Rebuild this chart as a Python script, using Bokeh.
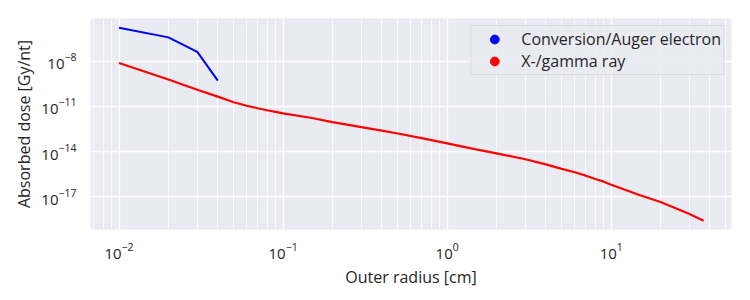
from bokeh.plotting import figure
from bokeh.models import Range1d, FixedTicker, LogTickFormatter, Legend, LegendItem
from bokeh.embed import file_html
from bokeh.resources import INLINE

# Data
electron_r = [0.01, 0.02, 0.03, 0.04]
electron_dose = [1.7e-6, 3.9e-7, 4.2e-8, 5.2e-10]

gamma_r = [0.01, 0.02, 0.03, 0.04, 0.05, 0.06, 0.07, 0.08, 0.09, 0.1, 0.15, 0.2, 0.3, 0.4,
           0.5, 0.7, 1.0, 1.5, 2, 3, 4, 5, 6, 7, 8, 9, 10, 15, 20, 30, 36.6]
gamma_dose = [7.8e-9, 6.2e-10, 1.3e-10, 4.5e-11, 1.9e-11, 1.12e-11, 7.6e-12, 5.6e-12, 4.4e-12,
              3.5e-12, 1.7e-12, 9.1e-13, 4.2e-13, 2.5e-13, 1.6e-13, 7.8e-14, 3.5e-14, 1.4e-14,
              7.6e-15, 3.1e-15, 1.4e-15, 7.1e-16, 4.2e-16, 2.5e-16, 1.5e-16, 1.0e-16, 6.3e-17,
              1.26e-17, 4.4e-18, 7.1e-19, 2.5e-19]

series_names = ["Conversion/Auger electron", "X-/gamma ray"]
series_colors = ["#0000FF", "#FF0000"]

x_major = [0.01, 0.1, 1, 10]
x_minor = [m * 10.0 ** e for e in (-3, -2, -1, 0, 1) for m in range(2, 10)]
y_major = [1e-17, 1e-14, 1e-11, 1e-8]

FONT = "Open Sans"
TXT = "#262626"

p = figure(width=750, height=300, x_axis_type="log", y_axis_type="log",
           output_backend="svg", toolbar_location=None,
           x_range=Range1d(0.0067, 54.1), y_range=Range1d(6.6e-20, 7.03e-6),
           min_border_left=90, min_border_right=19, min_border_top=18, min_border_bottom=71)
p.background_fill_color = "#EAEAF2"
p.border_fill_color = "white"
p.outline_line_color = None

p.xaxis.ticker = FixedTicker(ticks=x_major, minor_ticks=x_minor)
p.yaxis.ticker = FixedTicker(ticks=y_major, minor_ticks=[])
p.xaxis.formatter = LogTickFormatter()
p.yaxis.formatter = LogTickFormatter()

for ax in (p.xaxis, p.yaxis):
    ax.axis_line_color = None
    ax.major_tick_line_color = None
    ax.minor_tick_line_color = None
    ax.major_tick_out = 0
    ax.minor_tick_out = 0
    ax.major_label_text_font = FONT
    ax.major_label_text_font_size = "15px"
    ax.major_label_text_color = TXT
    ax.axis_label_text_font = FONT
    ax.axis_label_text_font_size = "16px"
    ax.axis_label_text_font_style = "normal"
    ax.axis_label_text_color = TXT

p.xaxis.major_label_standoff = 13
p.yaxis.major_label_standoff = 14
p.xaxis.axis_label = "Outer radius [cm]"
p.yaxis.axis_label = "Absorbed dose [Gy/nt]"
p.xaxis.axis_label_standoff = 4
p.yaxis.axis_label_standoff = 3

p.xgrid.grid_line_color = "white"
p.xgrid.grid_line_width = 1.3
p.xgrid.minor_grid_line_color = "white"
p.xgrid.minor_grid_line_width = 0.8
p.ygrid.grid_line_color = "white"
p.ygrid.grid_line_width = 1.3

p.line(electron_r, electron_dose, line_color=series_colors[0], line_width=2)
p.line(gamma_r, gamma_dose, line_color=series_colors[1], line_width=2.2)

# legend handles: dot markers with no drawable point (NaN), used only by the legend
nan = float("nan")
d0 = p.scatter(x=[nan], y=[nan], marker="circle", size=7,
               fill_color=series_colors[0], line_color=series_colors[0])
d1 = p.scatter(x=[nan], y=[nan], marker="circle", size=7,
               fill_color=series_colors[1], line_color=series_colors[1])

legend = Legend(items=[LegendItem(label=series_names[0], renderers=[d0]),
                       LegendItem(label=series_names[1], renderers=[d1])],
                location="top_right")
legend.margin = 7
legend.padding = 2
legend.glyph_width = 42
legend.glyph_height = 22
legend.label_height = 22
legend.label_standoff = 6
legend.spacing = 0
legend.label_text_font = FONT
legend.label_text_font_size = "16px"
legend.label_text_color = TXT
legend.background_fill_color = "#EAEAF2"
legend.background_fill_alpha = 0.85
legend.border_line_color = "#CCCCCC"
legend.border_line_width = 1
p.add_layout(legend)

open("out.html", "w").write(file_html(p, INLINE))
